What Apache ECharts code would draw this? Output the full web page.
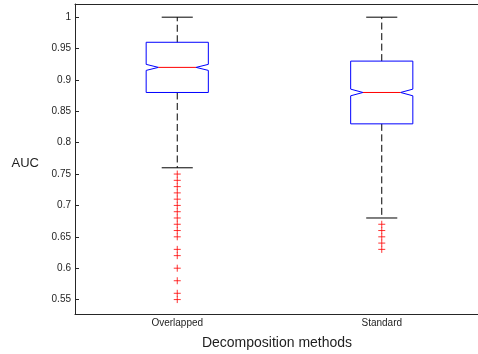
<!DOCTYPE html>
<html>
<head>
<meta charset="utf-8">
<script src="https://cdn.jsdelivr.net/npm/echarts@6/dist/echarts.min.js"></script>
<style>
  html, body { margin: 0; padding: 0; background: #fff; }
  #chart { width: 478px; height: 354px; }
</style>
</head>
<body>
<div id="chart"></div>
<script>
// AUC distributions for the two decomposition methods
const categories = ['Overlapped', 'Standard'];
const upperWhisker = [1.0, 1.0];
const upperQuartile = [0.96, 0.93];
const medians = [0.92, 0.88];
const lowerQuartile = [0.88, 0.83];
const lowerWhisker = [0.76, 0.68];
const notchLow = [0.9152, 0.8747];
const notchHigh = [0.9248, 0.8853];
const outliersOverlapped = [0.75, 0.74, 0.73, 0.72, 0.71, 0.70, 0.69, 0.68, 0.67, 0.66, 0.65, 0.63, 0.62, 0.60, 0.58, 0.56, 0.55];
const outliersStandard = [0.67, 0.66, 0.65, 0.64, 0.63];
const yTicks = [0.55, 0.6, 0.65, 0.7, 0.75, 0.8, 0.85, 0.9, 0.95, 1];

const FONT = "'Liberation Sans', Arial, sans-serif";
const AXIS_COLOR = '#262626';
const TEXT_COLOR = '#1e1e1e';

const boxRows = categories.map((c, i) => [
  i, upperWhisker[i], upperQuartile[i], medians[i], lowerQuartile[i],
  lowerWhisker[i], notchLow[i], notchHigh[i]
]);

// Notched box with dashed whiskers, end caps and a median bar
function renderNotchedBox(params, api) {
  const idx = api.value(0);
  const band = api.size([1, 0])[0];
  const hw = band * 0.152;
  const inset = band * 0.06;
  const y = v => api.coord([idx, v])[1];
  const cx = api.coord([idx, api.value(3)])[0];
  const yUp = y(api.value(1));
  const yQ3 = y(api.value(2));
  const yMed = y(api.value(3));
  const yQ1 = y(api.value(4));
  const yLow = y(api.value(5));
  const yNl = y(api.value(6));
  const yNh = y(api.value(7));
  const L = cx - hw, R = cx + hw;
  const whiskerStyle = { stroke: '#000', lineWidth: 1, lineDash: [7, 3.5] };
  const capStyle = { stroke: '#000', lineWidth: 1 };
  return {
    type: 'group',
    children: [
      { type: 'line', shape: { x1: cx, y1: yQ3, x2: cx, y2: yUp }, style: whiskerStyle },
      { type: 'line', shape: { x1: cx, y1: yQ1, x2: cx, y2: yLow }, style: whiskerStyle },
      { type: 'line', shape: { x1: cx - hw / 2, y1: yUp, x2: cx + hw / 2, y2: yUp }, style: capStyle },
      { type: 'line', shape: { x1: cx - hw / 2, y1: yLow, x2: cx + hw / 2, y2: yLow }, style: capStyle },
      {
        type: 'polygon',
        shape: {
          points: [
            [L, yQ3], [R, yQ3], [R, yNh], [R - inset, yMed], [R, yNl],
            [R, yQ1], [L, yQ1], [L, yNl], [L + inset, yMed], [L, yNh]
          ]
        },
        style: { fill: 'none', stroke: '#0000ff', lineWidth: 1 }
      },
      { type: 'line', shape: { x1: L + inset, y1: yMed, x2: R - inset, y2: yMed }, style: { stroke: '#ff0000', lineWidth: 1 } }
    ]
  };
}

const plusSymbol = 'path://M5,0L5,10M0,5L10,5';

const chart = echarts.init(document.getElementById('chart'), null, { renderer: 'canvas' });
chart.setOption({
  animation: false,
  backgroundColor: '#fff',
  grid: { left: 75, top: 4, width: 409, bottom: 40, containLabel: false, outerBoundsMode: 'none' },
  xAxis: [
    {
      type: 'category',
      data: categories,
      boundaryGap: true,
      axisLine: { lineStyle: { color: AXIS_COLOR, width: 1 } },
      axisTick: { inside: true, alignWithLabel: true, length: 4, lineStyle: { color: AXIS_COLOR } },
      axisLabel: { fontFamily: FONT, fontSize: 10, color: TEXT_COLOR, margin: 4 },
      splitLine: { show: false },
      name: 'Decomposition methods',
      nameLocation: 'middle',
      nameGap: 22,
      nameTextStyle: { fontFamily: FONT, fontSize: 14, color: TEXT_COLOR, padding: [0, 5, 0, 0] }
    },
    {
      type: 'category',
      position: 'top',
      data: categories,
      boundaryGap: true,
      axisLine: { lineStyle: { color: AXIS_COLOR, width: 1 } },
      axisTick: { inside: true, alignWithLabel: true, length: 4, lineStyle: { color: AXIS_COLOR } },
      axisLabel: { show: false },
      splitLine: { show: false }
    }
  ],
  yAxis: {
    type: 'value',
    min: 0.527,
    max: 1.021,
    axisLine: { show: true, lineStyle: { color: AXIS_COLOR, width: 1 } },
    axisTick: { show: true, inside: true, length: 4, customValues: yTicks, lineStyle: { color: AXIS_COLOR } },
    axisLabel: {
      customValues: yTicks,
      fontFamily: FONT, fontSize: 10, color: TEXT_COLOR, margin: 4,
      formatter: v => String(+(+v).toFixed(2))
    },
    splitLine: { show: false },
    name: 'AUC',
    nameLocation: 'middle',
    nameRotate: 0,
    nameGap: 36,
    nameTextStyle: { fontFamily: FONT, fontSize: 13, color: TEXT_COLOR, verticalAlign: 'top', lineHeight: 9 }
  },
  series: [
    {
      type: 'custom',
      renderItem: renderNotchedBox,
      data: boxRows,
      encode: { x: 0, y: [1, 2, 3, 4, 5] },
      clip: false,
      z: 2
    },
    {
      type: 'scatter',
      symbol: plusSymbol,
      symbolSize: 7,
      data: outliersOverlapped.map(v => [0, v]),
      itemStyle: { color: 'rgba(0,0,0,0)', borderColor: '#ff0000', borderWidth: 1 },
      z: 3
    },
    {
      type: 'scatter',
      symbol: plusSymbol,
      symbolSize: 7,
      data: outliersStandard.map(v => [1, v]),
      itemStyle: { color: 'rgba(0,0,0,0)', borderColor: '#ff0000', borderWidth: 1 },
      z: 3
    }
  ]
});
</script>
</body>
</html>
